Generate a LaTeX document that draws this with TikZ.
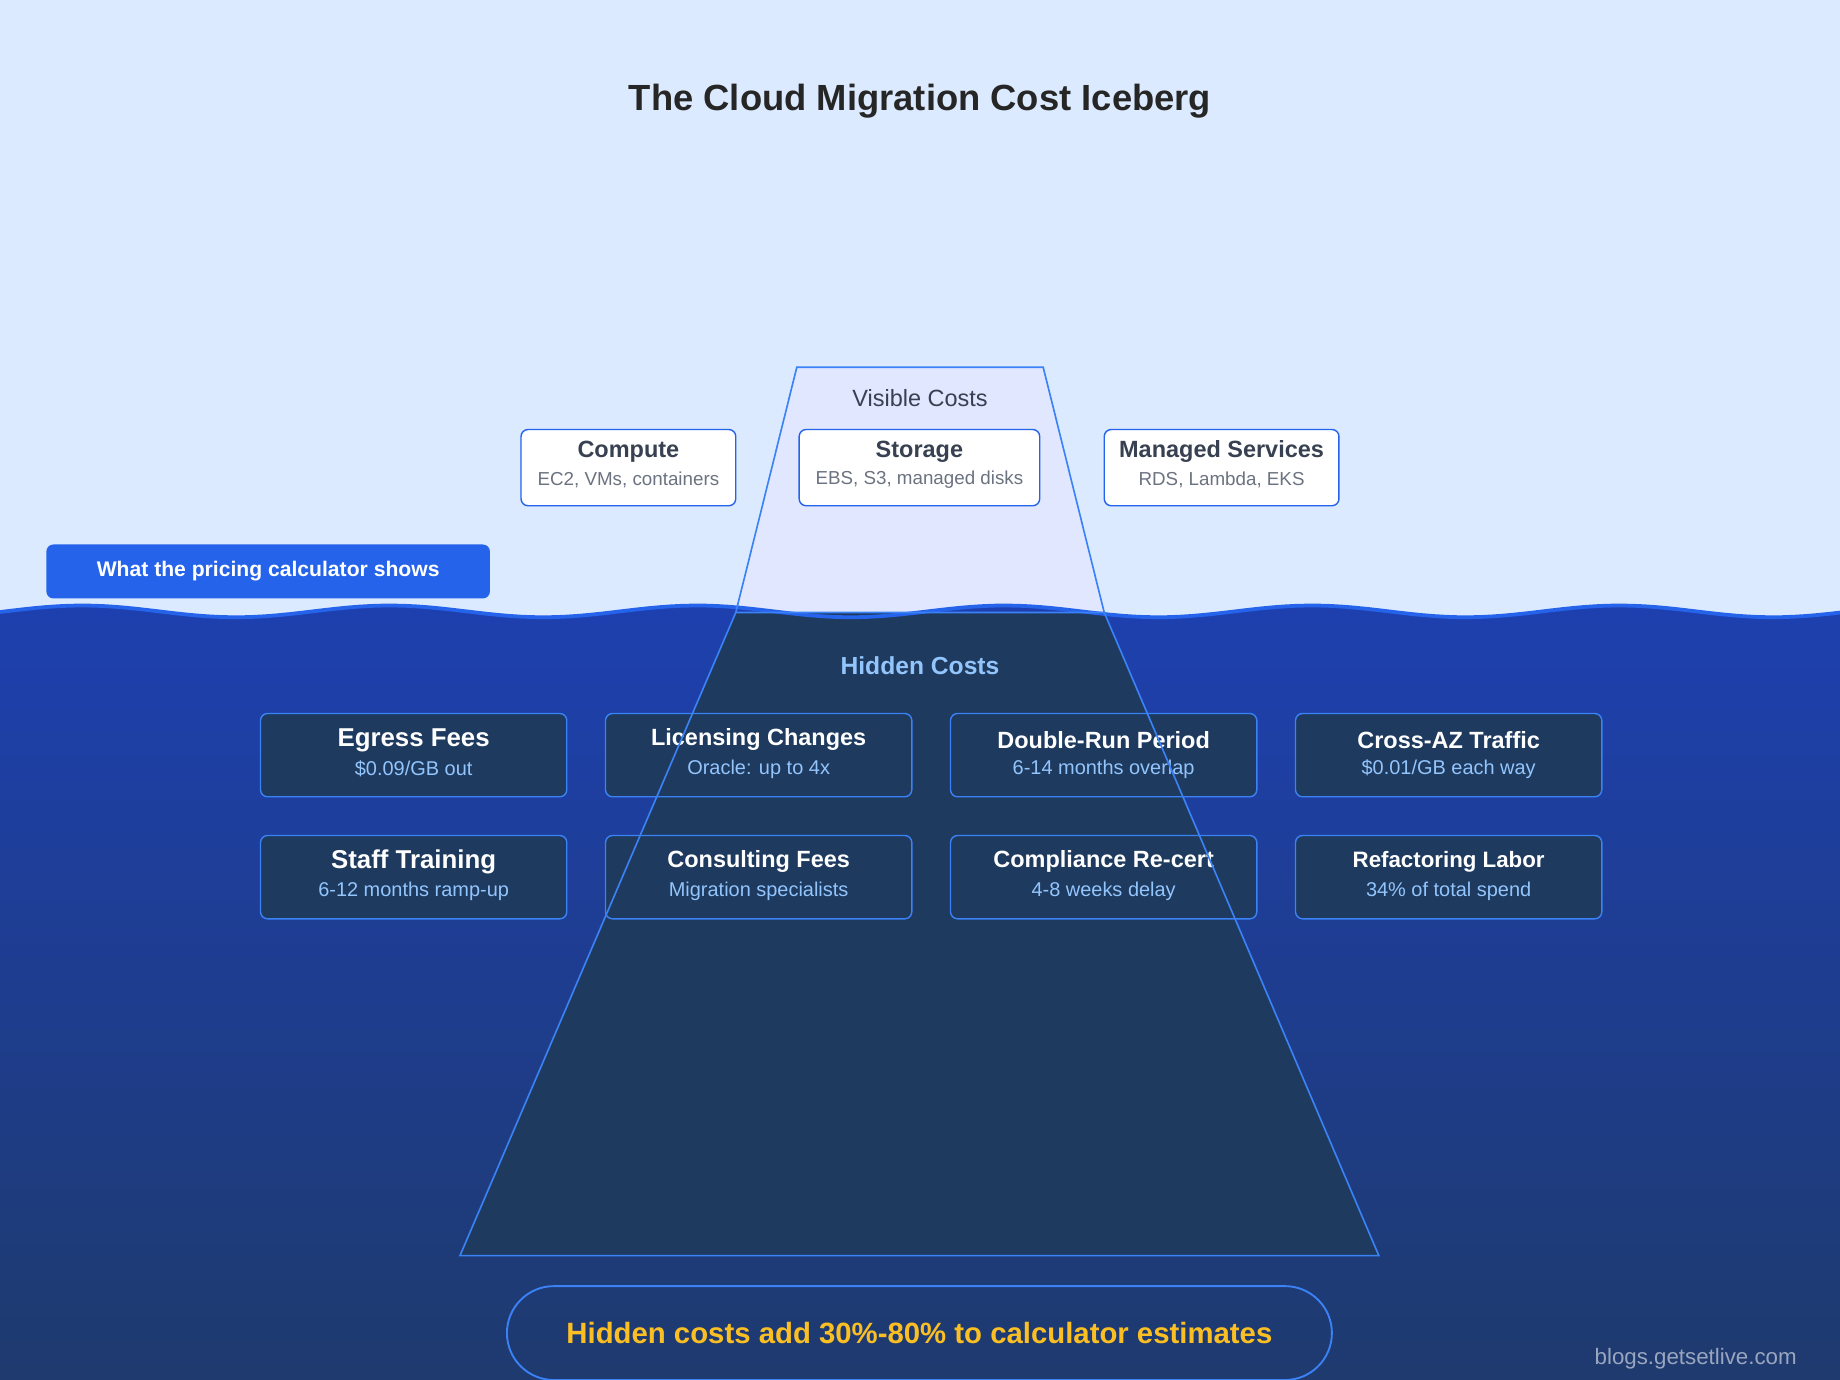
\documentclass[tikz,border=0pt]{standalone}
\usepackage{fontspec}
\setmainfont{Liberation Sans}
\definecolor{sky}{HTML}{DBEAFE}
\definecolor{seatop}{HTML}{1E40AF}
\definecolor{seabot}{HTML}{1E3A6E}
\definecolor{ice}{HTML}{E0E7FF}
\definecolor{deep}{HTML}{1E3A5F}
\definecolor{edgeblue}{HTML}{3B82F6}
\definecolor{wave}{HTML}{2563EB}
\definecolor{paleblue}{HTML}{93C5FD}
\definecolor{darktext}{HTML}{374151}
\definecolor{greytext}{HTML}{6B7280}
\definecolor{gold}{HTML}{FBBF24}
\tikzstyle{visbox}=[draw=wave,fill=white,rounded corners=3pt,line width=0.6pt,align=center,inner sep=0pt]
\tikzstyle{hidbox}=[draw=edgeblue,fill=deep,rounded corners=3pt,line width=0.6pt,align=center,inner sep=0pt,minimum width=130.5pt,minimum height=35.5pt]
\tikzstyle{vistitle}=[font=\bfseries\fontsize{10}{12}\selectfont,text=darktext]
\tikzstyle{vissub}=[font=\fontsize{8}{10}\selectfont,text=greytext]
\tikzstyle{hidtitle}=[font=\bfseries\fontsize{10}{12}\selectfont,text=white]
\tikzstyle{hidsub}=[font=\fontsize{8.5}{10}\selectfont,text=paleblue]

\begin{document}
\begin{tikzpicture}[x=0.5pt,y=-0.5pt]
\useasboundingbox (0,0) rectangle (1568,1176);
% sky and title
\fill[sky] (0,0) rectangle (1568,1176);
\node[font=\bfseries\fontsize{15.5}{18}\selectfont,text=black!85] (title) at (784,86) {The Cloud Migration Cost Iceberg};
% iceberg above water
\fill[ice] (679,313) -- (889,313) -- (945,540) -- (622,540) -- cycle;
% water
\shade[top color=seatop,bottom color=seabot] (0,520) -- plot[domain=0:1568,samples=160] (\x,{521-5*cos((\x-70)/262*360)}) -- (1568,1176) -- (0,1176) -- cycle;
\fill[deep] (627,522) -- (941,522) -- (1175,1070) -- (392,1070) -- cycle;
\draw[wave,line width=1.6pt] plot[domain=0:1568,samples=160] (\x,{521-5*cos((\x-70)/262*360)});
% visible costs
\node[text=darktext,font=\fontsize{10}{12}\selectfont] (vis) at (784,339) {Visible Costs};
\node[visbox,minimum width=91.5pt,minimum height=32.5pt] (compute) at (535.5,398.5) {};
\node[vistitle] at (535.5,385) {Compute};
\node[vissub] at (535.5,409) {EC2, VMs, containers};
\node[visbox,minimum width=102.5pt,minimum height=32.5pt] (storage) at (783.5,398.5) {};
\node[vistitle] at (783.5,385) {Storage};
\node[vissub] at (783.5,409) {EBS, S3, managed disks};
\node[visbox,minimum width=100pt,minimum height=32.5pt] (managed) at (1041,398.5) {};
\node[vistitle] at (1041,385) {Managed Services};
\node[vissub] at (1041,409) {RDS, Lambda, EKS};
\node[fill=wave,rounded corners=3pt,minimum width=189pt,minimum height=23pt,text=white,font=\bfseries\fontsize{9}{11}\selectfont] (calc) at (228.5,487) {What the pricing calculator shows};
% hidden costs
\node[text=paleblue,font=\bfseries\fontsize{10.5}{12}\selectfont] (hid) at (784,567) {Hidden Costs};
\foreach \name/\sub/\x/\y/\fs in {
  Egress Fees/{\$0.09/GB out}/352.5/643.5/11,
  Licensing Changes/Oracle: up to 4x/646.5/643.5/10,
  Double-Run Period/6-14 months overlap/940.5/643.5/10,
  Cross-AZ Traffic/{\$0.01/GB each way}/1234.5/643.5/10,
  Staff Training/6-12 months ramp-up/352.5/747.5/11,
  Consulting Fees/Migration specialists/646.5/747.5/10,
  Compliance Re-cert/4-8 weeks delay/940.5/747.5/10,
  Refactoring Labor/34\% of total spend/1234.5/747.5/9.5}{
  \node[hidbox] at (\x,\y) {};
  \node[hidtitle,font=\bfseries\fontsize{\fs}{12}\selectfont] at (\x,\y-13) {\name};
  \node[hidsub] at (\x,\y+12) {\sub};
}
% iceberg outline
\draw[edgeblue,line width=0.7pt] (679,313) -- (889,313) -- (941,522) -- (627,522) -- cycle;
\draw[edgeblue,line width=0.7pt] (627,522) -- (392,1070) -- (1175,1070) -- (941,522);
% summary
\node[draw=edgeblue,line width=0.8pt,rounded corners=20pt,minimum width=351.5pt,minimum height=40pt,text=gold,font=\bfseries\fontsize{12.5}{14}\selectfont] (summary) at (783.5,1136) {Hidden costs add 30\%-80\% to calculator estimates};
\node[text=white!55!seabot,font=\fontsize{9.5}{11}\selectfont] (site) at (1445,1158) {blogs.getsetlive.com};
\end{tikzpicture}
\end{document}
